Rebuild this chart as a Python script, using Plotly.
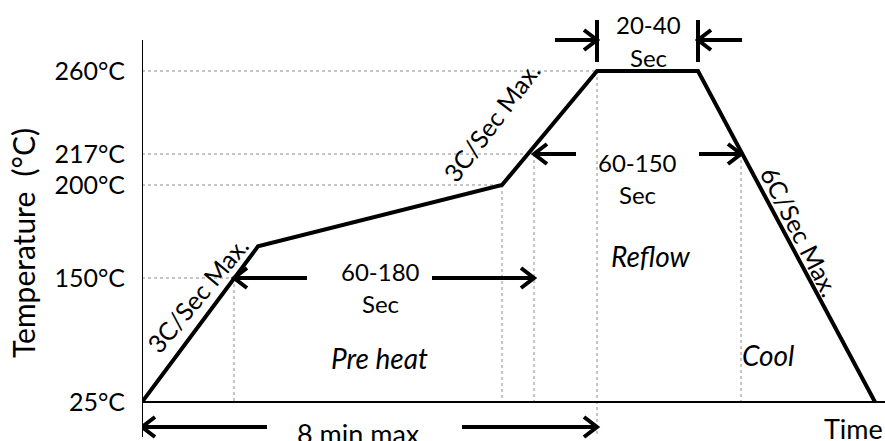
import numpy as np
import plotly.graph_objects as go

# ---------------- data ----------------
# temperature axis ticks (schematic, non-linear axis)
tick_temps = [25, 150, 200, 217, 260]
tick_labels = ["25°C", "150°C", "200°C", "217°C", "260°C"]
tick_levels = [0, 124, 217, 248, 331]          # schematic height of each tick on the axis

# reflow profile (schematic time units, temperature °C)
profile_time = [0, 116, 360, 455, 556, 733]
profile_temp = [25, 167, 200, 260, 260, 25]

# guide (dotted) lines: time where profile crosses temperature
guide_time = [92, 360, 392, 455, 599]
guide_temp = [150, 200, 217, 260, 217]
hguide_end = [92, 360, 392, 484, None]          # horizontal guide extent (None = no horizontal)

X_MAX = 743
Y_MIN, Y_MAX = -39, 402


def lv(t):
    """map temperature to schematic axis height"""
    return float(np.interp(t, tick_temps, tick_levels))


fig = go.Figure()

# dotted guides
gx, gy = [], []
for t, temp, he in zip(guide_time, guide_temp, hguide_end):
    y = lv(temp)
    if he is not None:
        gx += [0, he, None]
        gy += [y, y, None]
    bottom = -33 if temp == 260 else 0
    gx += [t, t, None]
    gy += [y, bottom, None]
fig.add_trace(go.Scatter(x=gx, y=gy, mode="lines",
                         line=dict(color="#8c8c8c", width=1, dash="dot"),
                         hoverinfo="skip", showlegend=False))

# profile
fig.add_trace(go.Scatter(x=profile_time, y=[lv(t) for t in profile_temp], mode="lines",
                         line=dict(color="black", width=4), hoverinfo="skip",
                         showlegend=False))

# arrows: (tail x, tip x, y level)
arrows = [
    (165, 92, lv(150)), (290, 392, lv(150)),        # 60-180 Sec
    (125, 0, -25), (320, 455, -25),                  # 8 min max
    (413, 455, 362), (600, 556, 362),                # 20-40 Sec
    (434, 392, lv(217)), (557, 599, lv(217)),        # 60-150 Sec
]
ax_, ay_ = [], []
for x0, x1, y in arrows:
    d = 1 if x1 > x0 else -1
    ax_ += [x0, x1, None, x1 - d * 13, x1, x1 - d * 13, None]
    ay_ += [y, y, None, y + 10, y, y - 10, None]
# bars for 20-40 sec
for xb in [455, 556]:
    ax_ += [xb, xb, None]
    ay_ += [340, 382, None]
fig.add_trace(go.Scatter(x=ax_, y=ay_, mode="lines",
                         line=dict(color="black", width=4), hoverinfo="skip",
                         showlegend=False))

FONT = "Lato"
def txt(x, y, s, size=24, angle=0, italic=False, xanchor="center", xref="x"):
    fig.add_annotation(x=x, y=y, xref=xref, text=("<i>%s</i>" % s) if italic else s,
                       showarrow=False, textangle=angle, xanchor=xanchor, yanchor="middle",
                       font=dict(family=FONT, size=size, color="black"))

txt(238, 131, "60-180")
txt(238, 99, "Sec")
txt(237, 44, "Pre heat", size=28, italic=True)
txt(216, -31, "8 min max", size=27)
txt(743, -26, "Time", size=27, xanchor="right")
txt(508, 146, "Reflow", size=28, italic=True)
txt(626, 47, "Cool", size=28, italic=True)
txt(506, 378, "20-40")
txt(506, 345, "Sec")
txt(495, 240, "60-150")
txt(495, 208, "Sec")
txt(55, 107, "3C/Sec Max.", size=25, angle=-50)
txt(349, 280, "3C/Sec Max.", size=25, angle=-53)
txt(658, 171, "6C/Sec Max.", size=25, angle=63)
txt((23 - 142) / X_MAX, 159, "Temperature  (°C)", size=30, angle=-90, xref="paper")

# axis lines
fig.add_shape(type="line", x0=0, x1=0, y0=-35, y1=362, line=dict(color="black", width=2))
fig.add_shape(type="line", x0=0, x1=X_MAX, y0=0, y1=0, line=dict(color="black", width=2))

fig.update_layout(
    width=885, height=441,
    margin=dict(l=142, r=0, t=0, b=0),
    paper_bgcolor="white", plot_bgcolor="white",
    xaxis=dict(range=[0, X_MAX], visible=False, fixedrange=True),
    yaxis=dict(range=[Y_MIN, Y_MAX], tickvals=tick_levels, ticktext=tick_labels,
               showgrid=False, zeroline=False, showline=False,
               ticks="outside", ticklen=11, tickcolor="rgba(0,0,0,0)",
               tickfont=dict(family=FONT, size=25, color="black"), fixedrange=True),
    showlegend=False,
)

fig.write_html("out.html", config={"displayModeBar": False},
               post_script="document.body.style.margin='0';document.body.style.overflow='hidden';")
